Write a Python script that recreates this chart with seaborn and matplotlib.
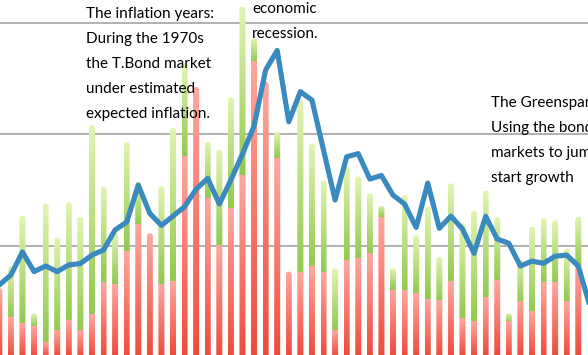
import numpy as np
import pandas as pd
import matplotlib
matplotlib.use("Agg")
import matplotlib.pyplot as plt
import seaborn as sns
from matplotlib.path import Path
from matplotlib.colors import to_rgb

# ---------------- data ----------------
years = list(range(1957, 2009))
tbond = [3.23, 3.68, 4.71, 3.83, 4.08, 3.83, 4.13, 4.19, 4.57, 4.80,
         5.70, 6.05, 7.71, 6.44, 5.90, 6.32, 6.74, 7.53, 8.01, 6.86,
         7.94, 9.10, 10.36, 12.87, 13.75, 10.55, 11.90, 11.52, 9.28, 7.04,
         8.98, 9.12, 7.98, 8.14, 7.26, 6.86, 5.81, 7.80, 5.77, 6.32,
         5.74, 4.65, 6.31, 5.29, 5.10, 4.08, 4.30, 4.20, 4.52, 4.57,
         4.08, 2.29]
bar_years = years[:51]
inflation = [3.09, 1.75, 1.51, 1.36, 0.66, 1.21, 1.63, 1.18, 1.91, 3.35,
             3.27, 4.71, 5.92, 5.55, 3.27, 3.39, 8.98, 12.11, 7.12, 5.02,
             6.67, 8.12, 13.24, 12.35, 8.91, 3.83, 3.77, 4.05, 3.78, 1.17,
             4.33, 4.41, 4.62, 6.26, 3.00, 2.98, 2.83, 2.58, 2.53, 3.38,
             1.72, 1.61, 2.67, 3.43, 1.58, 2.48, 2.03, 3.34, 3.34, 2.50, 4.13]
growth = [0.00, 2.33, 4.83, 0.60, 6.23, 4.14, 5.31, 5.11, 8.49, 4.29,
          2.28, 4.94, 1.94, 0.00, 4.40, 6.88, 4.20, 0.00, 2.53, 4.26,
          4.98, 7.59, 1.05, 0.00, 1.19, 0.00, 7.75, 5.53, 4.16, 2.81,
          4.20, 3.68, 2.72, 0.52, 0.98, 4.28, 2.64, 4.16, 1.97, 4.41,
          4.29, 4.94, 4.80, 2.86, 0.38, 1.87, 3.81, 2.88, 2.79, 2.36, 2.16]
grid_values = [5, 10, 15]

notes = [
    (86, 18.3, ["The inflation years:", "During the 1970s", "the T.Bond market",
                "under estimated", "expected inflation."]),
    (252, 13.3, ["economic", "recession."]),
    (491, 106.7, ["The Greenspan", "Using the bond", "markets to jump", "start growth"]),
]

# ---------------- style ----------------
sns.set_style("white")
plt.rcParams['font.family'] = ['Lato', 'DejaVu Sans']

W, H = 588, 355
fig = plt.figure(figsize=(W / 100, H / 100), dpi=100)
ax = fig.add_axes([0, 0, 1, 1])

total = [r + g for r, g in zip(inflation, growth)]
df = pd.DataFrame({"year": bar_years, "inflation": inflation, "total": total})

sns.barplot(data=df, x="year", y="total", native_scale=True, width=0.52,
            color="#b5dc7a", errorbar=None, ax=ax)
sns.barplot(data=df, x="year", y="inflation", native_scale=True, width=0.52,
            color="#f4786a", errorbar=None, ax=ax)

xlim = (1957.06, 2007.84)
ylim = (0.09, 16.01)
ax.set_xlim(*xlim)
ax.set_ylim(*ylim)
px_x = W / (xlim[1] - xlim[0])
px_y = H / (ylim[1] - ylim[0])


def grad(top, bottom, n=64):
    t = np.linspace(0, 1, n)[:, None]
    a = np.array(to_rgb(bottom))[None, :]
    b = np.array(to_rgb(top))[None, :]
    return (a * (1 - t) + b * t)[:, None, :]


red_grad = grad("#ffa79e", "#ee4b3b")
green_grad = grad("#e2f4b2", "#92c94e")

n = len(bar_years)
patches = list(ax.patches)
green_p, red_p = patches[:n], patches[n:2 * n]
for gp, rp in zip(green_p, red_p):
    gp.set_visible(False)
    rp.set_visible(False)
    x0, w = gp.get_x(), gp.get_width()
    T, R = gp.get_height(), rp.get_height()
    rx = w / 2
    ry = rx * px_x / px_y
    cx = x0 + rx
    ts = np.linspace(np.pi, 0, 24)
    verts = [(x0, -1), (x0, T - ry)]
    verts += [(cx + rx * np.cos(t), T - ry + ry * np.sin(t)) for t in ts]
    verts += [(x0 + w, -1), (x0, -1)]
    codes = [Path.MOVETO] + [Path.LINETO] * (len(verts) - 2) + [Path.CLOSEPOLY]
    clip = Path(verts, codes)
    if T - R > 1e-6:
        im = ax.imshow(green_grad, extent=[x0, x0 + w, R, T], origin="lower",
                       aspect="auto", interpolation="bilinear", zorder=1)
        im.set_clip_path(clip, ax.transData)
    im = ax.imshow(red_grad, extent=[x0, x0 + w, 0, R], origin="lower",
                   aspect="auto", interpolation="bilinear", zorder=1)
    im.set_clip_path(clip, ax.transData)

sns.lineplot(x=years, y=tbond, color="#3a8ac0", lw=3.7, ax=ax,
             solid_joinstyle="round", solid_capstyle="round", zorder=3)

ax.set_aspect("auto")
ax.set_xlim(*xlim)
ax.set_ylim(*ylim)
ax.set_yticks(grid_values)
ax.set_xticks([])
ax.set_yticklabels([])
ax.tick_params(length=0)
ax.set_axisbelow(True)
ax.yaxis.grid(True, color="#a3a3a3", lw=1.2)
ax.xaxis.grid(False)
for s in ax.spines.values():
    s.set_visible(False)
ax.set_xlabel("")
ax.set_ylabel("")

for x, y0, lines in notes:
    for k, line in enumerate(lines):
        fig.text(x / W, 1 - (y0 + 25 * k) / H, line, fontsize=11, color="black",
                 ha="left", va="baseline", family=['Lato', 'DejaVu Sans'])

fig.savefig("out.png", dpi=100)
